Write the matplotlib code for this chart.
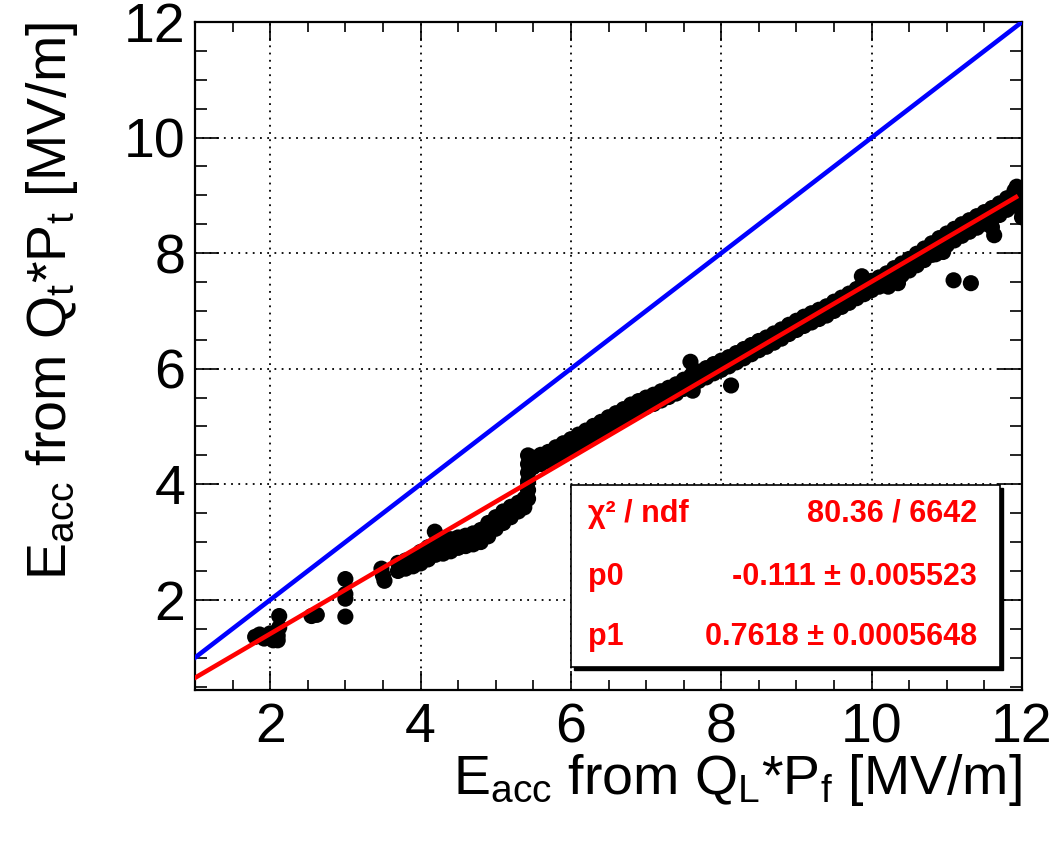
import matplotlib
matplotlib.use("Agg")
import matplotlib.pyplot as plt
from matplotlib.patches import Rectangle
from matplotlib.ticker import MultipleLocator
import numpy as np

plt.rcParams['font.family'] = ['Liberation Sans', 'DejaVu Sans']
plt.rcParams['mathtext.fontset'] = 'custom'
plt.rcParams['mathtext.rm'] = 'Liberation Sans'
plt.rcParams['mathtext.it'] = 'Liberation Sans:italic'
plt.rcParams['mathtext.bf'] = 'Liberation Sans:bold'

# single points, low-field part
low_x = [1.80, 1.86, 1.92, 1.98, 2.04, 2.10, 2.10, 2.12, 2.12, 2.00,
         2.55, 2.62, 3.00, 3.00, 3.00, 3.00, 3.48, 3.50, 3.52, 4.19]
low_y = [1.36, 1.40, 1.33, 1.38, 1.30, 1.30, 1.38, 1.52, 1.72, 1.42,
         1.72, 1.74, 1.71, 2.02, 2.10, 2.36, 2.54, 2.42, 2.33, 3.18]

# band 3.7 - 5.4 (sits below the fit)
band1_x = [3.70, 3.80, 3.90, 4.00, 4.10, 4.20, 4.30, 4.40, 4.50,
           4.60, 4.70, 4.80, 4.90, 5.00, 5.10, 5.20, 5.30, 5.38]
band1_hi = [2.64, 2.68, 2.73, 2.83, 2.91, 2.98, 3.03, 3.05, 3.08,
            3.11, 3.15, 3.21, 3.33, 3.43, 3.53, 3.61, 3.68, 3.75]
band1_lo = [2.50, 2.54, 2.58, 2.63, 2.70, 2.78, 2.80, 2.84, 2.90,
            2.93, 2.96, 3.00, 3.10, 3.23, 3.33, 3.43, 3.53, 3.60]

# jump at 5.43 MV/m
step_x = [5.43, 5.43, 5.43, 5.43, 5.43, 5.43]
step_y = [3.75, 3.90, 4.05, 4.20, 4.35, 4.50]

# main band 5.5 - 11.9
band2_x = [5.5, 5.6, 5.7, 5.8, 5.9, 6.0, 6.1, 6.2, 6.3, 6.4, 6.5, 6.6, 6.7,
           6.8, 6.9, 7.0, 7.1, 7.2, 7.3, 7.4, 7.5, 7.6, 7.7, 7.8, 7.9, 8.0,
           8.1, 8.2, 8.3, 8.4, 8.5, 8.6, 8.7, 8.8, 8.9, 9.0, 9.1, 9.2, 9.3,
           9.4, 9.5, 9.6, 9.7, 9.8, 9.9, 10.0, 10.1, 10.2, 10.3, 10.4, 10.5,
           10.6, 10.7, 10.8, 10.9, 11.0, 11.1, 11.2, 11.3, 11.4, 11.5, 11.6,
           11.7, 11.8, 11.9]
band2_hi = [4.46, 4.51, 4.56, 4.64, 4.71, 4.78, 4.86, 4.93, 5.01, 5.08, 5.16,
            5.23, 5.30, 5.38, 5.44, 5.50, 5.55, 5.61, 5.67, 5.73, 5.81, 5.88,
            5.95, 6.01, 6.08, 6.14, 6.20, 6.27, 6.34, 6.41, 6.48, 6.54, 6.61,
            6.68, 6.76, 6.83, 6.90, 6.96, 7.02, 7.08, 7.16, 7.23, 7.30, 7.38,
            7.45, 7.52, 7.58, 7.65, 7.74, 7.82, 7.90, 7.99, 8.08, 8.17, 8.26,
            8.34, 8.42, 8.50, 8.57, 8.64, 8.71, 8.78, 8.86, 8.95, 9.08]
band2_lo = [4.30, 4.35, 4.40, 4.48, 4.55, 4.62, 4.70, 4.77, 4.85, 4.92, 5.00,
            5.07, 5.14, 5.22, 5.28, 5.34, 5.39, 5.45, 5.51, 5.57, 5.65, 5.72,
            5.79, 5.85, 5.92, 5.98, 6.04, 6.11, 6.18, 6.25, 6.32, 6.38, 6.45,
            6.52, 6.60, 6.67, 6.74, 6.80, 6.86, 6.92, 7.00, 7.07, 7.14, 7.22,
            7.29, 7.36, 7.42, 7.48, 7.54, 7.62, 7.70, 7.79, 7.88, 7.97, 8.06,
            8.14, 8.22, 8.30, 8.37, 8.44, 8.51, 8.58, 8.66, 8.75, 8.88]

# outliers and extra points
out_x = [7.59, 7.62, 8.13, 9.87, 10.22, 10.35, 10.85, 10.95, 11.09, 11.32,
         11.60, 11.63, 11.93, 11.96, 11.98, 12.00, 12.00]
out_y = [6.12, 5.62, 5.71, 7.60, 7.42, 7.48, 7.98, 8.02, 7.53, 7.48,
         8.45, 8.31, 9.15, 9.05, 8.80, 8.72, 8.62]

# fit results
p0 = -0.111
p1 = 0.7618
fit_range = [1.0, 11.92]
diag_range = [1.0, 12.0]

fig = plt.figure(figsize=(10.57, 8.41), dpi=100)
ax = fig.add_axes([195 / 1057, 1 - 690 / 841, 827 / 1057, 668 / 841])

pts_x = low_x + band1_x + band1_x + step_x + band2_x + band2_x + out_x
pts_y = low_y + band1_hi + band1_lo + step_y + band2_hi + band2_lo + out_y
ax.scatter(pts_x, pts_y, s=135, color='black', edgecolors='none', zorder=3)

ax.plot(diag_range, diag_range, color=(0, 0, 1), lw=3.3, zorder=4)
fx = np.array(fit_range)
ax.plot(fx, p0 + p1 * fx, color=(1, 0, 0), lw=3.3, zorder=5)

ax.set_xlim(1, 12)
ax.set_ylim(0.44, 12)
ax.xaxis.set_major_locator(MultipleLocator(2))
ax.xaxis.set_minor_locator(MultipleLocator(0.5))
ax.yaxis.set_major_locator(MultipleLocator(2))
ax.yaxis.set_minor_locator(MultipleLocator(0.5))
ax.grid(True, which='major', color='black', linestyle=(0, (1, 3)), lw=1.3)
ax.set_axisbelow(True)

ax.tick_params(axis='both', which='both', direction='in', top=True, right=True,
               width=1.2, colors='black', labelsize=40)
ax.tick_params(axis='x', which='major', length=14, pad=9)
ax.tick_params(axis='x', which='minor', length=7)
ax.tick_params(axis='y', which='major', length=17, pad=7)
ax.tick_params(axis='y', which='minor', length=8.5)
for sp in ax.spines.values():
    sp.set_linewidth(1.6)

ax.set_xlabel(r'E$_{\mathrm{acc}}$ from Q$_{\mathrm{L}}$*P$_{\mathrm{f}}$ [MV/m]',
              fontsize=40, loc='right')
ax.set_ylabel(r'E$_{\mathrm{acc}}$ from Q$_{\mathrm{t}}$*P$_{\mathrm{t}}$ [MV/m]',
              fontsize=40, loc='top')
ax.xaxis.set_label_coords(1.0, -(752 - 690) / 668)
ax.yaxis.set_label_coords(-(195 - 80) / 827, 1.0)

# stats box with shadow
W, H = 1057, 841
bx0, bx1, by0, by1 = 571, 1000, 485, 667
fig.add_artist(Rectangle(((bx0 + 3) / W, 1 - (by1 + 3) / H), (bx1 - bx0) / W,
                         (by1 - by0) / H, transform=fig.transFigure,
                         facecolor='black', edgecolor='black', zorder=10))
fig.add_artist(Rectangle((bx0 / W, 1 - by1 / H), (bx1 - bx0) / W,
                         (by1 - by0) / H, transform=fig.transFigure,
                         facecolor='white', edgecolor='black', lw=1.2, zorder=11))

rows = [('χ² / ndf', '80.36 / 6642'),
        ('p0', '-0.111 ± 0.005523'),
        ('p1', '0.7618 ± 0.0005648')]
row_y = [514, 577, 637]
for (lab, val), yy in zip(rows, row_y):
    fig.text(588 / W, 1 - yy / H, lab, color='red', fontsize=22, fontweight='bold',
             ha='left', va='center', zorder=12)
    fig.text(977 / W, 1 - yy / H, val, color='red', fontsize=22, fontweight='bold',
             ha='right', va='center', zorder=12)

fig.savefig('out.png', dpi=100)
